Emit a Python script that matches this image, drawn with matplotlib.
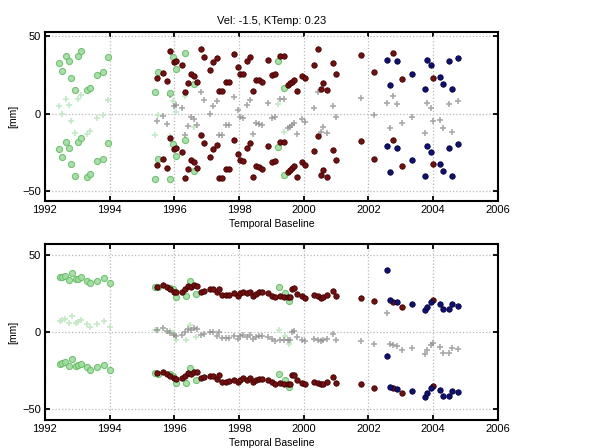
import matplotlib
matplotlib.use("Agg")
import matplotlib.pyplot as plt
import numpy as np

plt.rcParams['font.family'] = ['Liberation Sans', 'DejaVu Sans']

# ambiguity offset (mm): circles are drawn at value +/- AMBIG, plus at value
AMBIG = 28.0

title_text = "Vel: -1.5, KTemp: 0.23"
xlabel_text = "Temporal Baseline"
ylabel_text = "[mm]"
xticks = [1992, 1994, 1996, 1998, 2000, 2002, 2004, 2006]
yticks = [-50, 0, 50]

# ---------------- top panel ----------------
green_t_top = [1992.44, 1992.53, 1992.64, 1992.74, 1992.81, 1992.93, 1993.03, 1993.10,
               1993.31, 1993.38, 1993.60, 1993.78, 1993.96, 1995.40, 1995.48, 1995.87,
               1995.96, 1996.06, 1996.33, 1996.62, 1999.21, 1999.40]
green_v_top = [5.1, -0.3, 9.4, 5.8, -4.6, -12.5, 9.4, 12.4,
               -12.9, -11.2, -2.8, -1.1, 9.0, -14.0, -1.1, -14.5,
               8.4, 0.8, 11.2, -8.8, 6.4, -11.6]

red_t = [1995.47, 1995.65, 1995.76, 1995.86, 1996.00, 1996.06, 1996.24, 1996.32,
         1996.43, 1996.52, 1996.60, 1996.70, 1996.82, 1996.91, 1997.10, 1997.19,
         1997.31, 1997.39, 1997.47, 1997.60, 1997.68, 1997.86, 1997.97, 1998.04,
         1998.13, 1998.24, 1998.33, 1998.43, 1998.53, 1998.62, 1998.72, 1998.91,
         1999.03, 1999.10, 1999.28, 1999.38, 1999.50, 1999.57, 1999.64, 1999.70,
         1999.78, 1999.95, 2000.03, 2000.33, 2000.44, 2000.52, 2000.61, 2000.72,
         2000.90, 2000.99, 2001.77, 2002.18, 2002.77, 2003.05, 2004.00]
red_v_top = [-5.0, -1.5, -6.9, 12.4, 5.3, 5.8, 3.5, -13.8,
             -8.0, -2.2, -3.3, -7.4, 14.0, 9.0, 0.0, 5.2,
             8.0, -13.6, -13.6, -7.5, -7.5, 10.7, 2.1, -2.0,
             -2.6, 5.9, 9.0, -13.0, -6.0, -6.5, -7.5, 7.0,
             -3.0, -2.3, 9.6, 9.4, -9.4, -8.4, -7.4, -6.0,
             -13.0, -3.3, -5.2, 3.6, 13.8, -11.9, -8.4, -12.7,
             4.7, -2.0, 10.2, -1.0, 11.2, -5.8, -4.6]

blue_t = [2002.59, 2002.68, 2002.88, 2003.34, 2003.74, 2003.82, 2003.94, 2004.21,
          2004.31, 2004.50, 2004.59, 2004.78]
blue_v_top = [6.8, -9.4, 6.0, -2.1, -12.2, 6.8, 3.4, -4.3, -9.0, 6.0, -12.0, 8.3]

# ---------------- bottom panel ----------------
green_t_bot = [1992.45, 1992.53, 1992.62, 1992.75, 1992.85, 1992.95, 1993.03, 1993.12,
               1993.30, 1993.40, 1993.60, 1993.82, 1994.00, 1995.40, 1995.48, 1995.87,
               1995.96, 1996.06, 1996.35, 1996.50, 1996.66, 1999.24, 1999.42, 1999.54]
green_v_bot = [7.4, 7.8, 8.3, 5.7, 10.4, 6.0, 6.5, 7.5,
               5.0, 3.5, 5.0, 6.8, 3.5, 1.3, 1.0, 0.5,
               -0.5, -5.2, -5.0, 4.8, -3.4, 1.1, -2.8, -7.7]

red_v_bot = [1.3, 2.4, 0.9, -0.5, -1.9, -2.4, -1.9, -0.2,
             1.6, 1.1, 2.4, 2.0, -1.9, -1.3, -0.2, -0.2,
             -2.4, 0.0, -4.1, -4.1, -3.9, -2.8, -4.5, -2.8,
             -1.9, -3.0, -1.9, -4.5, -3.4, -2.4, -2.4, -3.0,
             -4.5, -5.6, -5.0, -5.4, -5.4, -5.4, 0.0, 0.4,
             -3.4, -4.9, -6.0, -4.3, -4.9, -6.0, -5.4, -4.3,
             -1.3, -4.9, -5.8, -8.0, -8.5, -11.6, -7.0]

blue_v_bot = [12.3, -7.5, -8.8, -10.1, -14.0, -11.8, -8.6, -9.7, -13.3, -13.3, -10.1, -11.0]

# ---------------- styles ----------------
GREEN_FACE, GREEN_EDGE = '#a0dca0', '#68bd68'
GREEN_PLUS = '#c4e9c4'
RED_FACE, RED_EDGE = '#701010', '#420000'
BLUE_FACE, BLUE_EDGE = '#10106e', '#000040'
GRAY_PLUS = '#8c8c8c'

fig = plt.figure(figsize=(6.16, 4.48), dpi=100)
ax_top = fig.add_axes([0.073, 0.5513, 0.735, 0.377])
ax_bot = fig.add_axes([0.073, 0.0625, 0.735, 0.393])


def draw(ax, gt, gv, rv, bv, ylim):
    gt = np.asarray(gt); gv = np.asarray(gv)
    rt = np.asarray(red_t); rv = np.asarray(rv)
    bt = np.asarray(blue_t); bv = np.asarray(bv)
    # plus markers (central value)
    ax.plot(gt, gv, '+', color=GREEN_PLUS, ms=4.5, mew=1.2, zorder=3)
    ax.plot(rt, rv, '+', color=GRAY_PLUS, ms=4.5, mew=1.2, alpha=0.75, zorder=3)
    ax.plot(bt, bv, '+', color=GRAY_PLUS, ms=4.5, mew=1.2, alpha=0.75, zorder=3)
    for sgn in (1, -1):
        ax.plot(gt, gv + sgn * AMBIG, 'o', mfc=GREEN_FACE, mec=GREEN_EDGE, ms=4.4,
                mew=0.8, alpha=0.9, zorder=4)
        ax.plot(rt, rv + sgn * AMBIG, 'o', mfc=RED_FACE, mec=RED_EDGE, ms=3.9,
                mew=0.6, zorder=5)
        ax.plot(bt, bv + sgn * AMBIG, 'o', mfc=BLUE_FACE, mec=BLUE_EDGE, ms=3.9,
                mew=0.6, zorder=5)
    ax.set_xlim(1992, 2006)
    ax.set_ylim(*ylim)
    ax.set_xticks(xticks)
    ax.set_yticks(yticks)
    ax.grid(True, color='#b8b8b8', linestyle=':', linewidth=0.9)
    ax.set_axisbelow(True)
    ax.tick_params(direction='in', length=3.5, width=1.3, top=True, right=True,
                   labelsize=8, pad=3)
    for s in ax.spines.values():
        s.set_linewidth(1.5)
    ax.set_xlabel(xlabel_text, fontsize=7.5, labelpad=2.5)
    ax.set_ylabel(ylabel_text, fontsize=7.5, labelpad=3)


draw(ax_top, green_t_top, green_v_top, red_v_top, blue_v_top, (-56.5, 52.8))
draw(ax_bot, green_t_bot, green_v_bot, red_v_bot, blue_v_bot, (-57, 57))
ax_top.set_title(title_text, fontsize=8, pad=6)

fig.savefig("out.png", dpi=100)
